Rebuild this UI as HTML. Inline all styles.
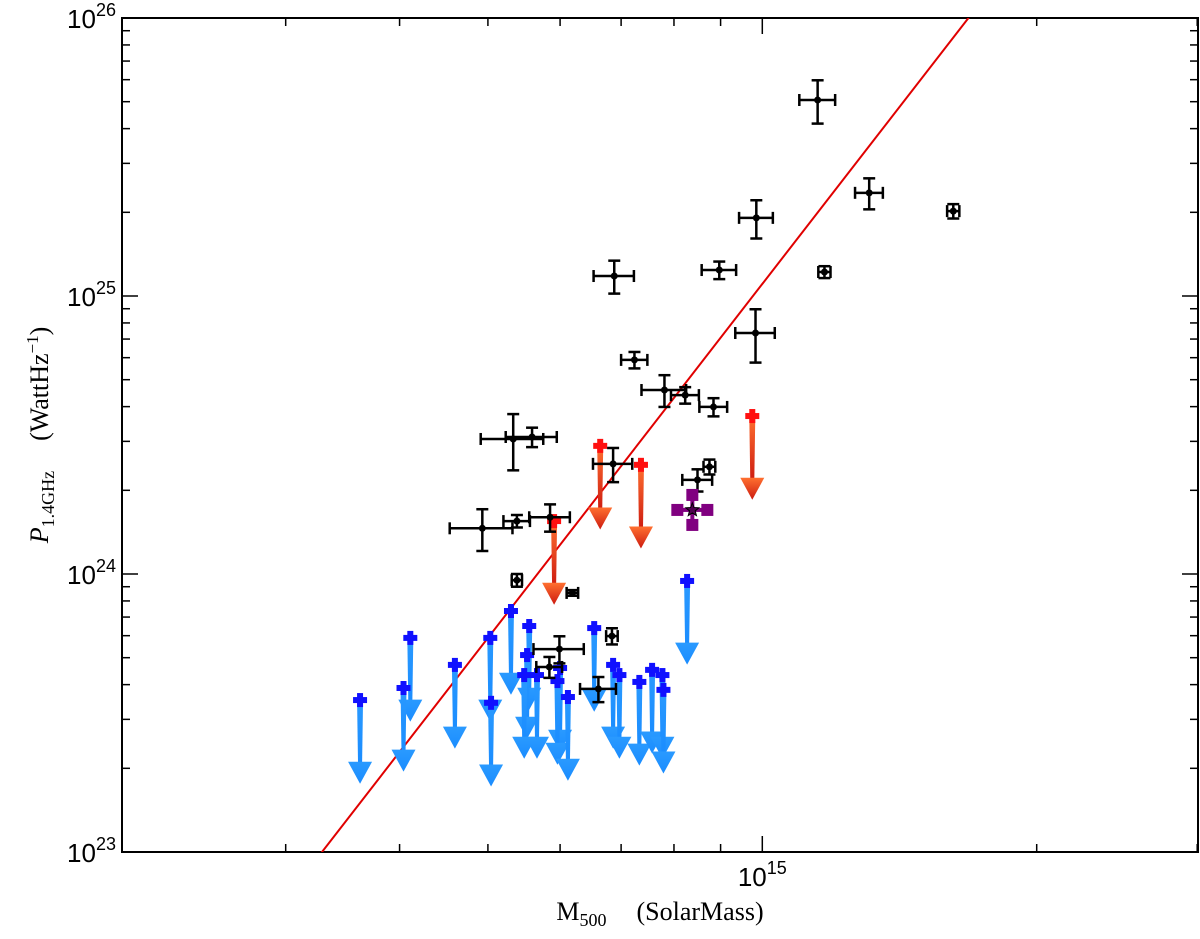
<!DOCTYPE html>
<html><head><meta charset="utf-8">
<style>
html,body{margin:0;padding:0;background:#fff;overflow:hidden;width:1200px;height:939px;}
svg{display:block;}
</style></head>
<body>
<svg id="chart" width="1200" height="939" xmlns="http://www.w3.org/2000/svg">
<defs>
<linearGradient id="blueGrad" x1="0" y1="0" x2="0" y2="1"><stop offset="0" stop-color="#2a9aff"/><stop offset="1" stop-color="#1a8cff"/></linearGradient>
<linearGradient id="redGrad" x1="0" y1="0" x2="0" y2="1"><stop offset="0" stop-color="#ff7030"/><stop offset="1" stop-color="#cc1a10"/></linearGradient>
</defs>
<rect x="122" y="18" width="1076" height="834" fill="none" stroke="#000" stroke-width="2"/>
<g id="ticks"></g><g id="fit"></g><g id="marks"></g>
<text x="660" y="920" text-anchor="middle" font-family="Liberation Serif, serif" font-size="26">M<tspan font-size="18" dy="6">500</tspan><tspan dy="-6" dx="30">(SolarMass)</tspan></text>
<text transform="translate(48,435) rotate(-90)" text-anchor="middle" font-family="Liberation Serif, serif" font-size="26"><tspan font-style="italic">P</tspan><tspan font-size="18" dy="6">1.4GHz</tspan><tspan dy="-6" dx="30">(WattHz</tspan><tspan font-size="17" dy="-10">−1</tspan><tspan dy="10">)</tspan></text>
</svg>
<script>
// mass in 1e14 Msun, power in 1e24 W/Hz
const detMass = [11.5,13.1,16.2,9.85,11.7,8.97,6.88,9.83,7.24,7.81,8.23,8.84,5.33,5.59,6.86,8.75,8.49,4.93,5.38,5.85,5.38,6.19,6.84,5.99,5.84,6.61];
const detPower = [50.7,23.5,20.2,19.1,12.2,12.4,11.8,7.36,5.89,4.59,4.40,3.99,3.06,3.11,2.49,2.43,2.18,1.46,1.55,1.60,0.95,0.855,0.598,0.537,0.463,0.386];
const detMassErr = [0.52,0.46,0.25,0.42,0.18,0.39,0.35,0.49,0.24,0.44,0.29,0.31,0.42,0.36,0.34,0.13,0.32,0.39,0.18,0.3,0.07,0.09,0.1,0.38,0.19,0.3];
const detPowerErr = [9,3,1.2,3,0.6,0.9,1.6,1.6,0.4,0.6,0.3,0.3,0.7,0.25,0.35,0.15,0.2,0.25,0.08,0.18,0.05,0.02,0.04,0.06,0.04,0.04];
const redMass = [6.64,7.36,9.75,5.91];
const redPower = [2.89,2.47,3.70,1.55];
const blueMass = [3.62,4.11,4.04,4.60,5.03,5.30,5.04,5.55,5.52,5.48,5.66,6.00,5.96,6.12,6.54,6.86,6.97,7.33,7.57,7.77,7.79,8.27];
const bluePower = [0.352,0.589,0.389,0.471,0.589,0.736,0.344,0.650,0.511,0.433,0.433,0.459,0.412,0.361,0.639,0.471,0.433,0.409,0.452,0.433,0.383,0.944];
const specialMass = [8.38];
const specialPower = [1.70];
const fitSlope = 4.23, fitNorm = 11.05; // P at M=10 (1e15)
const yTickLabels = ['23','24','25','26'];
const xTickLabels = ['15'];

const NS='http://www.w3.org/2000/svg';
const X0=122,X1=1198,Y0=18,Y1=852;
const xmin=Math.log10(1.984),xmax=Math.log10(30.06);
const ymin=-1,ymax=2;
function xs(m){return X0+(Math.log10(m)-xmin)/(xmax-xmin)*(X1-X0);}
function ys(p){return Y1-(Math.log10(p)-ymin)/(ymax-ymin)*(Y1-Y0);}
function el(tag,attrs,parent){const e=document.createElementNS(NS,tag);for(const k in attrs)e.setAttribute(k,attrs[k]);parent.appendChild(e);return e;}
const ticks=document.getElementById('ticks'),marks=document.getElementById('marks'),fit=document.getElementById('fit');

for(let d=-1;d<=2;d++){for(let k=1;k<10;k++){const v=k*Math.pow(10,d);if(Math.log10(v)>2.0001)break;const y=ys(v);const L=k===1?16:8;
 const t1=el('line',{x1:X0,x2:X0+L,y1:y,y2:y,stroke:'#000','stroke-width':1.5},ticks);
 
 
 el('line',{x1:X1-L,x2:X1,y1:y,y2:y,stroke:'#000','stroke-width':1.5},ticks);}}
yTickLabels.forEach((lab,i)=>{const y=ys(Math.pow(10,i-1));
 const t=el('text',{x:116,y:y+10,'text-anchor':'end','font-family':'Liberation Sans, sans-serif','font-size':26},ticks);
 
 
 t.innerHTML='10<tspan font-size="18" dy="-12">'+lab+'</tspan>';});
[3,4,5,6,7,8,9,10,20,30].forEach(v=>{const x=xs(v);if(x>X1+1)return;const L=v===10?16:8;
 const t=el('line',{x1:x,x2:x,y1:Y1,y2:Y1-L,stroke:'#000','stroke-width':1.5},ticks);
 
 
 el('line',{x1:x,x2:x,y1:Y0,y2:Y0+L,stroke:'#000','stroke-width':1.5},ticks);});
xTickLabels.forEach(lab=>{const x=xs(10);
 const t=el('text',{x:x,y:886,'text-anchor':'middle','font-family':'Liberation Sans, sans-serif','font-size':26},ticks);
 
 
 t.innerHTML='10<tspan font-size="18" dy="-12">'+lab+'</tspan>';});

{const m1=1.5,m2=30;const p=m=>fitNorm*Math.pow(m/10,fitSlope);
 const cp=el('clipPath',{id:'clip'},fit);el('rect',{x:X0,y:Y0,width:X1-X0,height:Y1-Y0},cp);
 const l=el('line',{x1:xs(m1),y1:ys(p(m1)),x2:xs(m2),y2:ys(p(m2)),stroke:'#e00000','stroke-width':2,'clip-path':'url(#clip)'},fit);
 
 }

function arrow(m,p,g){const x=xs(m),y=ys(p),y2=ys(p/2);
 el('polygon',{points:(x-3)+','+y+' '+(x+3)+','+y+' '+(x+2)+','+(y2-18)+' '+(x-2)+','+(y2-18)},g);
 el('polygon',{points:(x-12)+','+(y2-22)+' '+(x+12)+','+(y2-22)+' '+x+','+y2},g);}
function cross(m,p,color,g){const x=xs(m),y=ys(p);
 el('rect',{x:x-7,y:y-3,width:14,height:6,fill:color},g);el('rect',{x:x-3,y:y-7,width:6,height:14,fill:color},g);}

blueMass.forEach((m,i)=>{const g=el('g',{fill:'url(#blueGrad)'},marks);
 
 
 arrow(m,bluePower[i],g);cross(m,bluePower[i],'#1010ff',g);});
redMass.forEach((m,i)=>{const g=el('g',{fill:'url(#redGrad)'},marks);
 
 
 arrow(m,redPower[i],g);cross(m,redPower[i],'#ff1010',g);});
detMass.forEach((m,i)=>{const g=el('g',{stroke:'#000','stroke-width':2.5,fill:'none'},marks);
 
 
 const p=detPower[i],x=xs(m),y=ys(p),xa=xs(m-detMassErr[i]),xb=xs(m+detMassErr[i]),ya=ys(p+detPowerErr[i]),yb=ys(p-detPowerErr[i]);
 el('line',{x1:xa,x2:xb,y1:y,y2:y},g);el('line',{x1:x,x2:x,y1:ya,y2:yb},g);
 el('line',{x1:xa,x2:xa,y1:y-6,y2:y+6},g);el('line',{x1:xb,x2:xb,y1:y-6,y2:y+6},g);
 el('line',{x1:x-6,x2:x+6,y1:ya,y2:ya},g);el('line',{x1:x-6,x2:x+6,y1:yb,y2:yb},g);
 el('circle',{cx:x,cy:y,r:3.5,fill:'#000',stroke:'none'},g);});
specialMass.forEach((m,i)=>{const x=xs(m),y=ys(specialPower[i]);const g=el('g',{fill:'#800080'},marks);
 
 
 [[0,-15],[0,15],[-15,0],[15,0]].forEach(d=>el('rect',{x:x+d[0]-6,y:y+d[1]-6,width:12,height:12},g));
 el('rect',{x:x-2,y:y-12,width:4,height:24},g);el('rect',{x:x-12,y:y-2,width:24,height:4},g);
 el('polygon',{points:[0,1,2,3,4,5,6,7,8,9].map(k=>{const r=k%2?3:7,a=-Math.PI/2+k*Math.PI/5;return (x+r*Math.cos(a))+','+(y+r*Math.sin(a));}).join(' '),fill:'#500050',stroke:'#000','stroke-width':1},g);});
</script>
</body></html>
